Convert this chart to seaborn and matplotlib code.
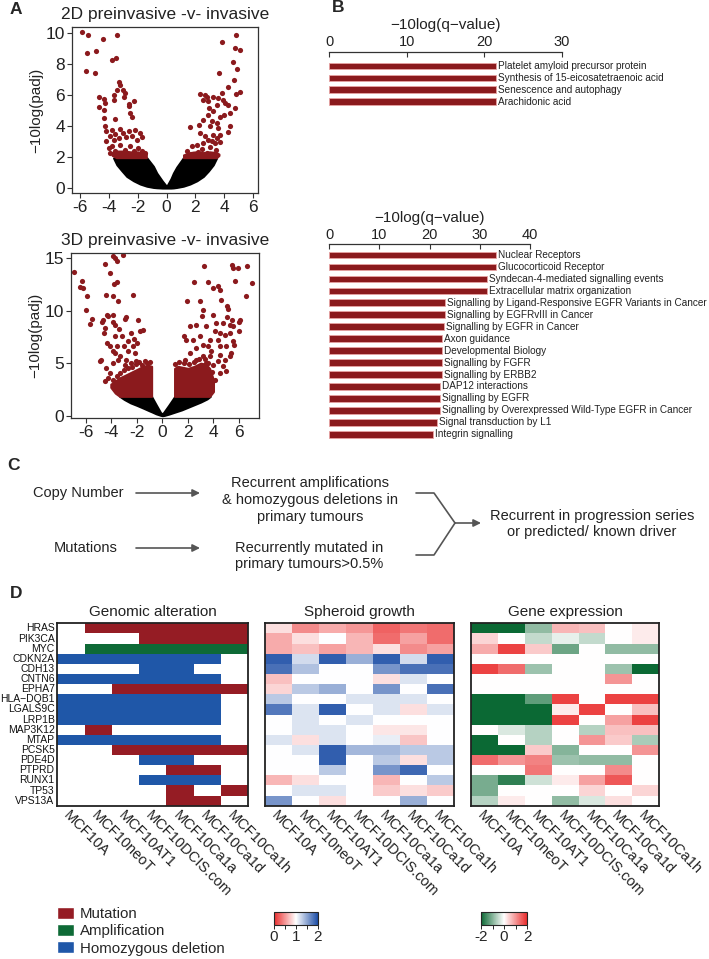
import matplotlib
matplotlib.use('Agg')
import pandas as pd
import matplotlib.pyplot as plt
import seaborn as sns
from matplotlib.colors import ListedColormap, LinearSegmentedColormap, Normalize
from matplotlib.cm import ScalarMappable
from matplotlib.patches import Patch
from matplotlib.ticker import MultipleLocator

sns.set_theme(style='white')
plt.rcParams['font.family'] = ['Liberation Sans', 'DejaVu Sans']
plt.rcParams['axes.unicode_minus'] = False

W, H = 709, 959
DARKRED = '#8b1a1d'
MUT = '#951c24'
AMP = '#0e6a36'
DEL = '#1f57a8'
GREY = '#555555'

# ---- panel A: volcano plots ----
red2d_x = [-5.88, -5.47, -3.46, -4.43, -5.54, -4.91, -5.61, -5.0, -3.8, -3.5,
           4.79, 3.82, 4.74, 5.08, 4.62, 4.92, 3.63, 4.68, 4.28, 5.08, 4.85, 3.82,
           -4.68, -4.34, -4.27, -4.73, -4.38, -4.34, -3.34, -3.23, -3.46, -3.04, -2.88, -2.95, -3.69, -3.69, -2.65, -2.3, -3.57, -2.53, -2.42, -2.65,
           2.31, 2.66, 2.78, 2.5, 2.89, 3.24, 3.58, 3.93, 3.47, 2.94, 4.28, 4.09, 4.74, 4.39, 3.98, 3.7, 3.24, 2.89,
           1.62, 2.25, 2.55, 3.12, 3.47, 4.39, 4.28, 3.58, 3.01,
           -4.27, -4.2, -3.8, -3.23, -3.57, -3.92, -4.2, -3.69, -3.34, -3.04, -2.65, -2.19, -2.42, -1.84, -2.07, -1.73, -2.81,
           2.31, 2.66, 2.89, 3.24, 3.47, 3.7, 3.12, 3.35, 3.7, 2.55, 2.08, 1.74, 1.39, 2.43, 3.01, 3.42, 2.2,
           -3.8, -4.04, -3.57, -3.23, -2.88, -2.53, -2.3, -1.96, -1.73, -1.5, -2.77, -3.34, -3.92, 2.78, 1.85, 3.24]
red2d_y = [10.06, 9.89, 9.89, 9.61, 8.71, 8.88, 7.59, 7.42, 8.24, 8.39,
           9.89, 9.42, 9.03, 8.92, 8.13, 7.7, 7.42, 6.99, 6.52, 6.19, 6.06, 6.13,
           5.91, 5.74, 5.48, 5.23, 5.05, 4.52, 6.88, 6.67, 6.34, 6.3, 6.13, 5.91, 6.02, 5.7, 5.44, 5.59, 4.47, 4.84, 4.58, 5.27,
           6.09, 6.02, 5.91, 5.66, 5.63, 5.91, 5.81, 5.7, 5.38, 5.16, 5.38, 5.48, 5.16, 4.84, 4.73, 4.62, 4.95, 4.73,
           3.94, 4.09, 4.41, 4.3, 4.19, 3.98, 3.59, 3.87, 3.98,
           3.98, 3.66, 3.76, 3.81, 3.51, 3.33, 3.01, 3.12, 3.23, 3.55, 3.66, 3.72, 3.38, 3.55, 3.12, 3.29, 3.29,
           3.55, 3.33, 3.12, 3.44, 3.23, 3.44, 3.01, 2.9, 2.95, 2.9, 2.8, 2.69, 2.37, 2.52, 2.65, 2.47, 2.3,
           2.69, 2.58, 2.37, 2.8, 2.47, 2.69, 2.37, 2.58, 2.37, 2.26, 2.26, 2.22, 2.26, 2.26, 2.22, 2.22]

# dense non-significant cloud (black) outline, 2D
bk2d_x = [-3.69, -3.46, -3.1, -2.77, -2.3, -1.84, -1.38, -0.92, -0.69, -0.3, 0, 0.3, 0.47, 0.7, 1.16, 1.62, 2.1, 2.55, 2.9, 3.24, 3.47]
bk2d_lo = [1.94, 1.5, 1.1, 0.75, 0.47, 0.26, 0.12, 0.04, 0.02, 0, 0, 0, 0.01, 0.04, 0.12, 0.26, 0.47, 0.75, 1.1, 1.5, 1.94]
bk2d_hi = [1.94, 1.95, 1.95, 1.95, 1.95, 1.95, 1.95, 1.4, 0.97, 0.45, 0.1, 0.6, 0.97, 1.35, 1.95, 1.95, 1.95, 1.95, 1.95, 1.95, 1.94]
# dense significant band just above the cut, 2D
band2d_lx = [-3.8, -3.5, -3.0, -2.5, -2.0, -1.4]
band2d_llo = [2.1, 1.95, 1.95, 1.95, 1.95, 1.95]
band2d_lhi = [2.3, 2.4, 2.4, 2.35, 2.35, 2.25]
band2d_rx = [1.16, 1.6, 2.0, 2.5, 3.0, 3.47, 3.65]
band2d_rlo = [1.95, 1.95, 1.95, 1.95, 1.95, 1.95, 2.1]
band2d_rhi = [2.15, 2.3, 2.35, 2.3, 2.35, 2.3, 2.2]

left3d_x = [-6.94, -6.34, -6.47, -6.21, -5.9, -6.0, -5.69, -5.5, -4.49, -3.73, -3.6, -3.86, -3.08, -4.12, -3.6, -3.78, -4.43, -3.86, -2.3, -3.47,
            -4.3, -4.38, -3.86, -4.64, -4.77, -3.91, -3.73, -2.82, -2.95, -1.9, -4.51, -4.56, -3.39, -1.51, -1.77, -2.43, -3.73, -3.21, -2.24, -2.69,
            -1.97, -4.38, -4.12, -3.6, -3.03, -2.3, -2.69, -3.73, -3.34, -3.86, -2.17, -4.85, -4.9, -4.43, -4.12, -4.25, -4.51, -3.86, -3.47, -2.82,
            -2.95, -2.43, -2.04, -1.64, -1.25, -1.51,
            -3.9, -3.6, -3.3, -3.0, -2.7, -2.4, -2.1, -1.8, -1.4, -1.0]
left3d_y = [13.64, 12.84, 12.24, 12.15, 11.42, 10.09, 8.72, 9.23, 14.43, 15.0, 14.75, 15.16, 15.32, 13.57, 12.69, 12.53, 11.51, 11.35, 11.51, 10.94,
            9.45, 9.61, 9.61, 9.13, 8.88, 8.88, 8.66, 9.39, 9.23, 9.13, 8.34, 7.87, 8.25, 8.18, 8.02, 7.87, 7.55, 7.61, 7.29, 7.07,
            6.91, 6.91, 6.6, 6.6, 6.6, 6.6, 6.12, 5.96, 5.65, 6.12, 5.96, 5.33, 5.17, 4.54, 4.06, 3.58, 3.27, 5.01, 5.33, 5.33,
            4.85, 5.01, 5.17, 4.85, 5.01, 4.54,
            3.4, 3.8, 4.1, 4.3, 4.5, 4.6, 4.9, 5.1, 5.2, 5.15]
right3d_x = [3.24, 5.45, 5.53, 5.92, 6.63, 7.02, 6.58, 5.66, 2.45, 3.57, 3.96, 4.35, 4.49, 4.56, 1.93, 2.92, 5.06, 5.17, 3.18, 3.13,
             3.96, 5.06, 5.45, 6.05, 6.0, 2.61, 2.19, 4.22, 4.75, 5.27, 5.53, 6.0, 3.44, 4.09, 4.49, 4.88, 5.27, 2.92, 1.7, 1.88,
             2.4, 3.7, 4.35, 5.53, 5.61, 3.18, 3.57, 4.49, 5.01, 2.66, 3.83, 4.49, 5.4, 2.14, 3.18, 3.7, 2.66, 4.88, 5.27, 1.75,
             4.35, 3.44, 3.96, 4.75, 4.49, 5.01,
             1.0, 1.3, 1.7, 2.1, 2.5, 2.9, 3.3, 3.6, 3.85, 4.1]
right3d_y = [14.21, 14.33, 14.05, 14.05, 14.21, 12.62, 11.35, 12.84, 12.69, 12.69, 12.15, 12.37, 11.99, 10.97, 10.88, 10.88, 10.4, 10.15, 10.09, 9.45,
             9.61, 9.39, 9.07, 9.13, 8.88, 8.66, 8.56, 8.82, 8.82, 8.66, 8.5, 8.02, 8.5, 8.02, 7.87, 7.71, 7.87, 7.55, 7.55, 7.23,
             7.23, 7.23, 7.23, 7.07, 6.76, 6.76, 6.6, 6.6, 6.6, 6.44, 6.12, 5.8, 5.96, 5.96, 5.65, 5.65, 5.33, 5.33, 5.65, 5.33,
             5.17, 5.01, 4.85, 4.69, 4.06, 4.22,
             4.9, 5.1, 5.0, 4.95, 5.1, 5.4, 5.4, 5.0, 4.2, 3.4]

dense3d_lx = [-4.05, -3.7, -3.35, -3.0, -2.5, -2.0, -1.5, -1.1, -0.85]
dense3d_llo = [2.7, 2.15, 1.84, 1.84, 1.84, 1.84, 1.84, 1.84, 1.84]
dense3d_lhi = [3.0, 3.3, 3.6, 3.8, 4.1, 4.4, 4.7, 4.8, 4.7]
dense3d_rx = [0.95, 1.2, 1.6, 2.0, 2.5, 3.0, 3.4, 3.7, 4.0]
dense3d_rlo = [1.84, 1.84, 1.84, 1.84, 1.84, 1.84, 1.84, 1.84, 2.3]
dense3d_rhi = [4.5, 4.7, 4.6, 4.5, 4.7, 5.0, 4.9, 4.5, 3.4]

bk3d_x = [-3.35, -3.0, -2.5, -2.0, -1.5, -1.0, -0.86, -0.5, -0.15, 0, 0.15, 0.5, 0.97, 1.5, 2.0, 2.5, 3.0, 3.5, 3.75]
bk3d_lo = [1.84, 1.55, 1.22, 0.98, 0.72, 0.45, 0.38, 0.18, 0.04, 0, 0.03, 0.15, 0.34, 0.55, 0.8, 1.05, 1.3, 1.6, 1.84]
bk3d_hi = [1.84, 1.84, 1.84, 1.84, 1.84, 1.84, 1.84, 1.05, 0.3, 0.15, 0.4, 1.0, 1.84, 1.84, 1.84, 1.84, 1.84, 1.84, 1.84]

# ---- panel B: pathway enrichment ----
b1_names = ['Platelet amyloid precursor protein', 'Synthesis of 15-eicosatetraenoic acid',
            'Senescence and autophagy', 'Arachidonic acid']
b1_vals = [21.5, 21.5, 21.5, 21.5]
b2_names = ['Nuclear Receptors', 'Glucocorticoid Receptor', 'Syndecan-4-mediated signalling events',
            'Extracellular matrix organization', 'Signalling by Ligand-Responsive EGFR Variants in Cancer',
            'Signalling by EGFRvIII in Cancer', 'Signalling by EGFR in Cancer', 'Axon guidance',
            'Developmental Biology', 'Signalling by FGFR', 'Signalling by ERBB2', 'DAP12 interactions',
            'Signalling by EGFR', 'Signalling by Overexpressed Wild-Type EGFR in Cancer',
            'Signal transduction by L1', 'Integrin signalling']
b2_vals = [33.2, 33.2, 31.4, 31.4, 23.0, 23.0, 22.9, 22.5, 22.5, 22.5, 22.5, 22.0, 22.0, 22.0, 21.4, 20.6]

# ---- panel D: heatmaps ----
genes = ['HRAS', 'PIK3CA', 'MYC', 'CDKN2A', 'CDH13', 'CNTN6', 'EPHA7', 'HLA\u2212DQB1', 'LGALS9C', 'LRP1B',
         'MAP3K12', 'MTAP', 'PCSK5', 'PDE4D', 'PTPRD', 'RUNX1', 'TP53', 'VPS13A']
cell_lines = ['MCF10A', 'MCF10neoT', 'MCF10AT1', 'MCF10DCIS.com', 'MCF10Ca1a', 'MCF10Ca1d', 'MCF10Ca1h']
# 0 none, 1 mutation, 2 amplification, 3 homozygous deletion
genomic = [[0, 1, 1, 1, 1, 1, 1], [0, 0, 0, 1, 1, 1, 1], [0, 2, 2, 2, 2, 2, 2], [3, 3, 3, 3, 3, 3, 0],
           [0, 0, 0, 3, 3, 0, 0], [3, 3, 3, 3, 3, 3, 0], [0, 0, 1, 1, 1, 1, 1], [3, 3, 3, 3, 3, 3, 0],
           [3, 3, 3, 3, 3, 3, 0], [3, 3, 3, 3, 3, 3, 0], [0, 1, 0, 0, 0, 0, 0], [3, 3, 3, 3, 3, 3, 0],
           [0, 0, 1, 1, 1, 1, 1], [0, 0, 0, 3, 3, 0, 0], [0, 0, 0, 0, 1, 1, 0], [0, 0, 0, 3, 3, 3, 0],
           [0, 0, 0, 0, 1, 0, 1], [0, 0, 0, 0, 1, 1, 0]]
spheroid = [[0.85, 0.45, 0.6, 0.5, 0.25, 0.35, 0.3], [0.6, 0.85, 1.0, 0.65, 0.3, 0.55, 0.3],
            [0.6, 0.7, 0.55, 0.65, 0.85, 0.45, 0.55], [1.9, 1.2, 1.9, 1.45, 1.9, 1.2, 1.9],
            [1.8, 1.35, 1.0, 1.0, 1.6, 1.8, 1.8], [0.7, 1.0, 1.0, 1.0, 0.85, 1.15, 1.0],
            [0.8, 1.3, 1.45, 1.0, 1.6, 1.0, 1.8], [1.3, 1.0, 1.0, 1.15, 1.15, 1.15, 1.0],
            [1.75, 1.15, 1.9, 1.0, 1.15, 0.85, 1.15], [1.0, 1.15, 1.0, 1.15, 1.0, 1.0, 1.0],
            [1.0, 1.15, 1.15, 1.0, 0.88, 0.88, 1.0], [1.15, 0.85, 1.15, 1.0, 1.1, 0.72, 1.0],
            [1.0, 1.15, 1.9, 1.4, 1.4, 1.3, 1.3], [1.0, 1.0, 1.9, 1.0, 1.3, 0.85, 1.3],
            [1.0, 1.0, 1.3, 1.0, 1.6, 1.85, 1.0], [0.65, 0.85, 1.0, 1.0, 0.65, 1.0, 1.3],
            [1.0, 1.15, 1.15, 1.0, 0.75, 0.85, 0.75], [1.6, 1.0, 0.85, 1.0, 1.0, 1.45, 1.0]]
expression = [[-2, -2, -0.9, 0.7, 0.6, 0, 0.2], [0.4, 0, -0.5, -0.2, -0.5, 0, 0.2],
              [0.8, 1.8, 0.5, -1.2, 0, -0.9, -0.9], [0, 0, 0, 0, 0, 0, 0],
              [1.8, 1.4, -0.8, 0, 0, -0.8, -2], [0, 0, 0, 0, 0, 1.0, 0],
              [0, 0, 0, 0, 0, 0, 0], [-2, -2, -1.3, 1.8, 0, 1.8, 1.8],
              [-2, -2, -2, 0.2, 1.8, 0, 0.6], [-2, -2, -2, 1.8, 0, 0.9, 1.8],
              [0, -0.3, -0.6, 0, -0.6, 0.6, 0.6], [-2, 0, -0.6, 0, 1.0, 0.5, -0.7],
              [-2, -2, 0.5, -1.0, 0, 0, 1.0], [1.4, 1.0, 1.2, -0.8, -0.9, -0.9, 0],
              [0, 0, 1.3, 0, 0, 1.1, 0], [-1.1, -1.7, -0.4, 0.2, 0.9, 1.6, 0],
              [-1.1, 0, 0, 0, 0.4, 0, 0.4], [-0.6, 0.2, 0, -0.9, -0.3, 0.3, 0]]


def box(l, t, r, b):
    return [l / W, 1 - b / H, (r - l) / W, (b - t) / H]


fig = plt.figure(figsize=(W / 100, H / 100), dpi=100)

# overlay in pixel coordinates for panel letters and the flow chart
axC = fig.add_axes([0, 0, 1, 1])
axC.set_xlim(0, W)
axC.set_ylim(H, 0)
axC.axis('off')
for letter, x, y in [('A', 10, 9), ('B', 332, 8), ('C', 7, 466), ('D', 10, 593)]:
    axC.text(x, y, letter, fontsize=12.5, fontweight='bold', ha='left', va='center')

txt = dict(fontsize=10.5, ha='center', va='center', color='#222222')
axC.text(78, 493, 'Copy Number', **txt)
axC.text(86, 548, 'Mutations', **txt)
axC.text(310, 500, 'Recurrent amplifications\n& homozygous deletions in\nprimary tumours', linespacing=1.25, **txt)
axC.text(309, 556, 'Recurrently mutated in\nprimary tumours>0.5%', linespacing=1.25, **txt)
axC.text(592, 524, 'Recurrent in progression series\nor predicted/ known driver', linespacing=1.25, **txt)
arr = dict(arrowstyle='-|>', color=GREY, lw=1.2, mutation_scale=11, shrinkA=0, shrinkB=0)
for y in (493, 548):
    axC.annotate('', xy=(200, y), xytext=(136, y), arrowprops=arr)
axC.plot([416, 434, 455], [493, 493, 523], color=GREY, lw=1.2)
axC.plot([416, 434, 455], [555, 555, 523], color=GREY, lw=1.2)
axC.annotate('', xy=(481, 523), xytext=(455, 523), arrowprops=arr)


def style_volcano(ax, title, yticks):
    for s in ax.spines.values():
        s.set_visible(True)
        s.set_color('#333333')
        s.set_linewidth(0.9)
    ax.set_xticks([-6, -4, -2, 0, 2, 4, 6])
    ax.set_yticks(yticks)
    ax.tick_params(bottom=True, left=True, direction='out', length=3.5, width=0.8,
                   labelsize=12.5, pad=1.5, colors='#333333', labelcolor='#222222')
    ax.set_title(title, fontsize=12.5, pad=6, color='#222222')
    ax.set_ylabel('\u221210log(padj)', fontsize=11, labelpad=2, color='#222222')
    ax.set_xlabel('')


# 2D volcano
ax1 = fig.add_axes(box(72, 27, 258, 193))
ax1.fill_between(bk2d_x, bk2d_lo, bk2d_hi, color='black', lw=1.5, edgecolor='black')
ax1.fill_between(band2d_lx, band2d_llo, band2d_lhi, color=DARKRED, lw=1.2, edgecolor=DARKRED)
ax1.fill_between(band2d_rx, band2d_rlo, band2d_rhi, color=DARKRED, lw=1.2, edgecolor=DARKRED)
sns.scatterplot(x=red2d_x, y=red2d_y, color=DARKRED, s=14, linewidth=0, ax=ax1)
ax1.set_xlim(-6.58, 6.35)
ax1.set_ylim(-0.32, 10.4)
style_volcano(ax1, '2D preinvasive -v- invasive', [0, 2, 4, 6, 8, 10])

# 3D volcano
ax2 = fig.add_axes(box(71, 253, 259, 418))
ax2.fill_between(bk3d_x, bk3d_lo, bk3d_hi, color='black', lw=1.5, edgecolor='black')
ax2.fill_between(dense3d_lx, dense3d_llo, dense3d_lhi, color=DARKRED, lw=1.5, edgecolor=DARKRED)
ax2.fill_between(dense3d_rx, dense3d_rlo, dense3d_rhi, color=DARKRED, lw=1.5, edgecolor=DARKRED)
sns.scatterplot(x=left3d_x + right3d_x, y=left3d_y + right3d_y, color=DARKRED, s=14, linewidth=0, ax=ax2)
ax2.set_xlim(-7.17, 7.57)
ax2.set_ylim(-0.22, 15.48)
style_volcano(ax2, '3D preinvasive -v- invasive', [0, 5, 10, 15])


def bars(ax, names, vals, xmax, step, ybot, ytop, off):
    sns.barplot(x=vals, y=names, orient='h', color=DARKRED, saturation=1, width=0.56,
                edgecolor='#e7a3a3', linewidth=0.6, ax=ax)
    for i, (n, v) in enumerate(zip(names, vals)):
        ax.text(v + off, i, n, fontsize=7.2, ha='left', va='center', color='#222222')
    ax.set_xlim(0, xmax)
    ax.set_ylim(ybot, ytop)
    ax.set_xticks(range(0, xmax + 1, step))
    ax.set_yticks([])
    ax.set_ylabel('')
    ax.xaxis.tick_top()
    ax.xaxis.set_label_position('top')
    ax.set_xlabel('\u221210log(q\u2212value)', fontsize=11, labelpad=4, color='#222222')
    for k, s in ax.spines.items():
        s.set_visible(k == 'top')
    ax.spines['top'].set_color('#333333')
    ax.spines['top'].set_linewidth(0.9)
    ax.tick_params(axis='x', top=True, bottom=False, direction='in', length=3.5, width=0.8,
                   labelsize=10.5, pad=2, colors='#333333', labelcolor='#222222')


axB1 = fig.add_axes(box(329, 51.7, 561.7, 107.6))
bars(axB1, b1_names, b1_vals, 30, 10, 3.5, -1.2, 0.3)
axB2 = fig.add_axes(box(329, 244.3, 530, 440.2))
bars(axB2, b2_names, b2_vals, 40, 10, 15.5, -0.9, 0.45)

# heatmaps
gen_cmap = ListedColormap(['#ffffff', MUT, AMP, DEL])
sph_cmap = LinearSegmentedColormap.from_list('sph', ['#ea2e2e', '#ffffff', '#1c4da6'])
exp_cmap = LinearSegmentedColormap.from_list('exp', ['#0b6934', '#ffffff', '#ea2e2e'])

panels = [
    (box(57.3, 623.3, 248.3, 805.7), genomic, gen_cmap, -0.5, 3.5, 'Genomic alteration', True),
    (box(265, 623.3, 454.3, 805.7), spheroid, sph_cmap, 0, 2, 'Spheroid growth', False),
    (box(471, 623.3, 659.3, 805.7), expression, exp_cmap, -2, 2, 'Gene expression', False),
]
for rect, mat, cmap, vmin, vmax, title, rowlab in panels:
    ax = fig.add_axes(rect)
    df = pd.DataFrame(mat, index=genes, columns=cell_lines)
    sns.heatmap(df, cmap=cmap, vmin=vmin, vmax=vmax, cbar=False, ax=ax,
                xticklabels=True, yticklabels=rowlab)
    ax.set_xticklabels(cell_lines, rotation=-45, ha='left', va='top',
                       rotation_mode='anchor', fontsize=10.5, color='#222222')
    if rowlab:
        ax.set_yticklabels(genes, rotation=0, fontsize=7.5, color='#111111')
    ax.tick_params(length=0, pad=2)
    ax.set_xlabel('')
    ax.set_ylabel('')
    ax.set_title(title, fontsize=11, pad=5, color='#222222')
    for s in ax.spines.values():
        s.set_visible(True)
        s.set_color('#222222')
        s.set_linewidth(1.3)

# colour scales
for rect, cmap, lo, hi, ticks in [(box(274, 912, 318, 924.5), sph_cmap, 0, 2, [0, 1, 2]),
                                  (box(481, 912, 527, 924.5), exp_cmap, -2, 2, [-2, 0, 2])]:
    cax = fig.add_axes(rect)
    cb = fig.colorbar(ScalarMappable(norm=Normalize(lo, hi), cmap=cmap), cax=cax,
                      orientation='horizontal', ticks=ticks)
    cb.ax.xaxis.set_minor_locator(MultipleLocator((hi - lo) / 4))
    cb.ax.tick_params(which='both', length=3, width=0.7, labelsize=11, pad=1)
    cb.outline.set_linewidth(0.8)

handles = [Patch(facecolor=MUT, label='Mutation'),
           Patch(facecolor=AMP, label='Amplification'),
           Patch(facecolor=DEL, label='Homozygous deletion')]
fig.legend(handles=handles, loc='upper left', bbox_to_anchor=(57 / W, 1 - 907 / H),
           frameon=False, fontsize=10.8, handlelength=1.1, handleheight=0.85,
           handletextpad=0.4, labelspacing=0.2, borderpad=0, borderaxespad=0)

fig.savefig('out.png', dpi=100)
